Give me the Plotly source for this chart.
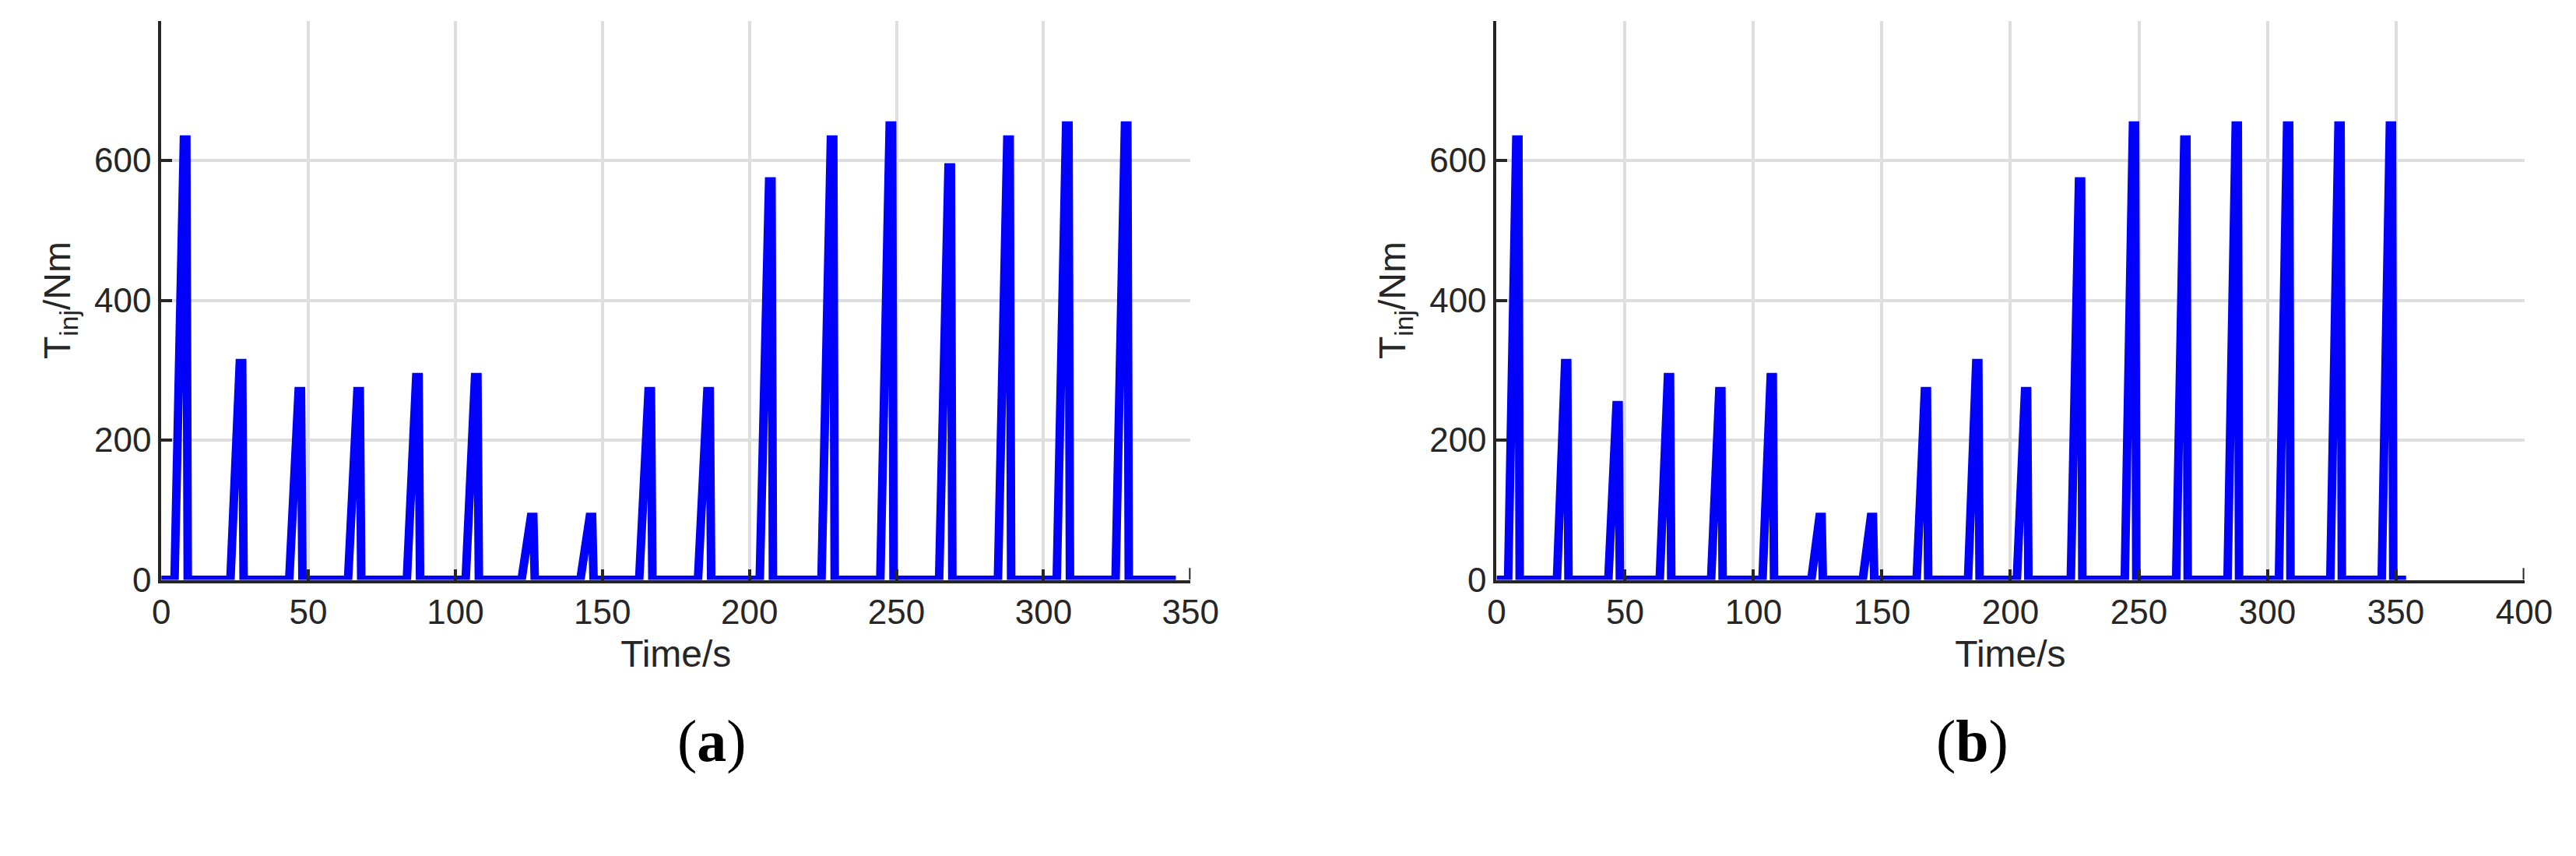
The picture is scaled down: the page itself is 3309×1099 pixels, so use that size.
import plotly.graph_objects as go

# Panel (a): peak times (s) and heights (Nm)
peak_t_a = [8, 27, 47, 67, 87, 107, 126, 146, 166, 186, 207, 228, 248, 268, 288, 308, 328]
peak_h_a = [630, 310, 270, 270, 290, 290, 90, 90, 270, 270, 570, 630, 650, 590, 630, 650, 650]
end_a = 345
# Panel (b)
peak_t_b = [8, 27, 47, 67, 87, 107, 126, 146, 167, 187, 206, 227, 248, 268, 288, 308, 328, 348]
peak_h_b = [630, 310, 250, 290, 270, 290, 90, 90, 270, 310, 270, 570, 650, 630, 650, 650, 650, 650]
end_b = 354

x_ticks_a = [0, 50, 100, 150, 200, 250, 300, 350]
x_ticks_b = [0, 50, 100, 150, 200, 250, 300, 350, 400]
y_ticks = [0, 200, 400, 600, 800]


def series(ts, hs, end):
    xs, ys = [0], [0]
    for t, h in zip(ts, hs):
        xs += [t - 3.5, t - 0.3, t + 0.5, t + 1.0]
        ys += [0, h, h, 0]
    xs.append(end)
    ys.append(0)
    return xs, ys


fig = go.Figure()
xa, ya = series(peak_t_a, peak_h_a, end_a)
xb, yb = series(peak_t_b, peak_h_b, end_b)
fig.add_trace(go.Scatter(x=xa, y=ya, mode="lines", line=dict(color="#0000ff", width=11),
                         xaxis="x", yaxis="y", showlegend=False))
fig.add_trace(go.Scatter(x=xb, y=yb, mode="lines", line=dict(color="#0000ff", width=11),
                         xaxis="x2", yaxis="y2", showlegend=False))

W, H = 3309, 1099
ax_common = dict(showgrid=True, gridcolor="#dedede", gridwidth=4, showline=True,
                 linecolor="#262626", linewidth=4, ticks="inside", ticklen=14,
                 tickwidth=4, tickcolor="#262626", zeroline=False,
                 tickfont=dict(family="Liberation Sans", size=44, color="#262626"),
                 mirror=False)
title_font = dict(family="Liberation Sans", size=48, color="#262626")

fig.update_layout(
    width=W, height=H, plot_bgcolor="white", paper_bgcolor="white",
    margin=dict(l=0, r=0, t=0, b=0),
    xaxis=dict(domain=[190 / W, 1532 / W], range=[0, 350], tickvals=x_ticks_a,
               title=dict(text="Time/s", font=title_font, standoff=14), anchor="y", **ax_common),
    yaxis=dict(domain=[1 - 753 / H, 1 - 19 / H], range=[0, 800], tickvals=y_ticks,
               title=dict(text="T<sub>inj</sub>/Nm", font=title_font, standoff=16), anchor="x", **ax_common),
    xaxis2=dict(domain=[1931 / W, 3271 / W], range=[0, 400], tickvals=x_ticks_b,
                title=dict(text="Time/s", font=title_font, standoff=14), anchor="y2", **ax_common),
    yaxis2=dict(domain=[1 - 753 / H, 1 - 19 / H], range=[0, 800], tickvals=y_ticks,
                title=dict(text="T<sub>inj</sub>/Nm", font=title_font, standoff=16), anchor="x2", **ax_common),
)
for xref, yref, xe in [("x", "y", 350), ("x2", "y2", 400)]:
    fig.add_shape(type="line", xref=xref, yref=yref, x0=xe, x1=xe, y0=0, y1=17,
                  line=dict(color="#262626", width=4))
fig.add_annotation(text="(<b>a</b>)", x=(190 + 1532) / 2 / W, y=1 - 1010 / H, xref="paper", yref="paper",
                   showarrow=False, font=dict(family="Liberation Serif", size=76, color="black"))
fig.add_annotation(text="(<b>b</b>)", x=(1931 + 3271) / 2 / W, y=1 - 1010 / H, xref="paper", yref="paper",
                   showarrow=False, font=dict(family="Liberation Serif", size=76, color="black"))
fig.write_html("out.html")
